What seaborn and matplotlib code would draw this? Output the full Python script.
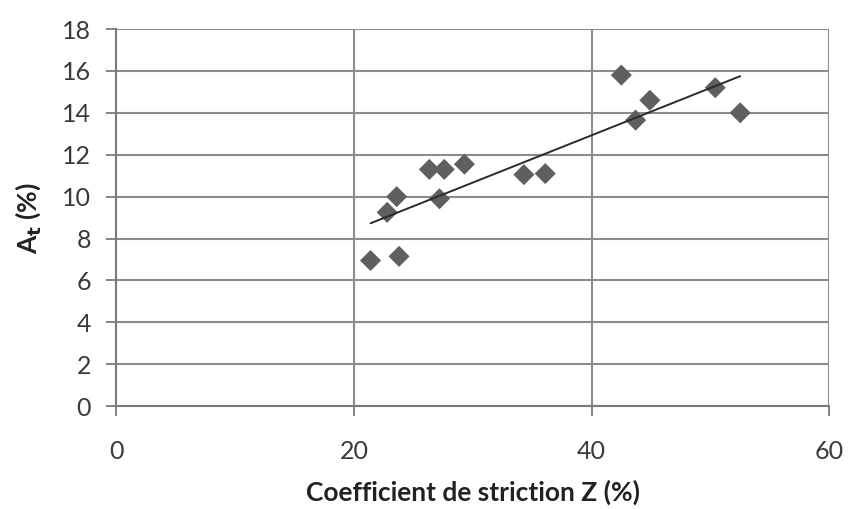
import numpy as np
import pandas as pd
import seaborn as sns
import matplotlib.pyplot as plt

# values
striction_z = [21.4, 22.8, 23.6, 23.8, 26.35, 27.2, 27.6, 29.3, 34.3, 36.1,
               42.5, 43.7, 44.9, 50.4, 52.5]
elongation_at = [6.95, 9.25, 10.0, 7.15, 11.3, 9.9, 11.3, 11.55, 11.05, 11.1,
                 15.8, 13.65, 14.6, 15.2, 14.0]
x_ticks = [0, 20, 40, 60]
y_ticks = list(range(0, 19, 2))

df = pd.DataFrame({"Z": striction_z, "At": elongation_at})

sns.set_theme(style="white")
plt.rcParams['font.family'] = ['Lato', 'DejaVu Sans']

fig = plt.figure(figsize=(8.48, 5.09), dpi=100)
ax = fig.add_axes([0.137, 0.202, 0.841, 0.741])

sns.scatterplot(data=df, x="Z", y="At", marker="D", s=115, color="#5f5f5f",
                edgecolor="none", ax=ax, zorder=3)
sns.regplot(data=df, x="Z", y="At", scatter=False, ci=None, truncate=True,
            line_kws={"color": "#2b2b2b", "lw": 1.4, "zorder": 4}, ax=ax)

ax.set_xlim(0, 60)
ax.set_ylim(0, 18)
ax.set_xticks(x_ticks)
ax.set_yticks(y_ticks)

grid_c = "#8c8c8c"
for v in y_ticks[1:]:
    ax.axhline(v, color=grid_c, lw=1.5, zorder=1)
for v in x_ticks[1:]:
    ax.axvline(v, color=grid_c, lw=1.5, zorder=1)

for s in ["top", "right"]:
    ax.spines[s].set_visible(False)
for s in ["left", "bottom"]:
    ax.spines[s].set_color("#7a7a7a")
    ax.spines[s].set_linewidth(1.5)

ax.tick_params(axis="both", which="major", direction="out", length=7,
               width=1.3, color="#7a7a7a", labelsize=18, labelcolor="#3a3a3a",
               bottom=True, left=True)
ax.tick_params(axis="y", pad=11)
ax.tick_params(axis="x", pad=17)

ax.set_xlabel("Coefficient de striction Z (%)", fontsize=19, fontweight="bold",
              color="#222222", labelpad=12)
ax.set_ylabel(r"A$_\mathbf{t}$ (%)", fontsize=19, fontweight="bold",
              color="#222222", labelpad=14)

fig.savefig("out.png", dpi=100, facecolor="white")
